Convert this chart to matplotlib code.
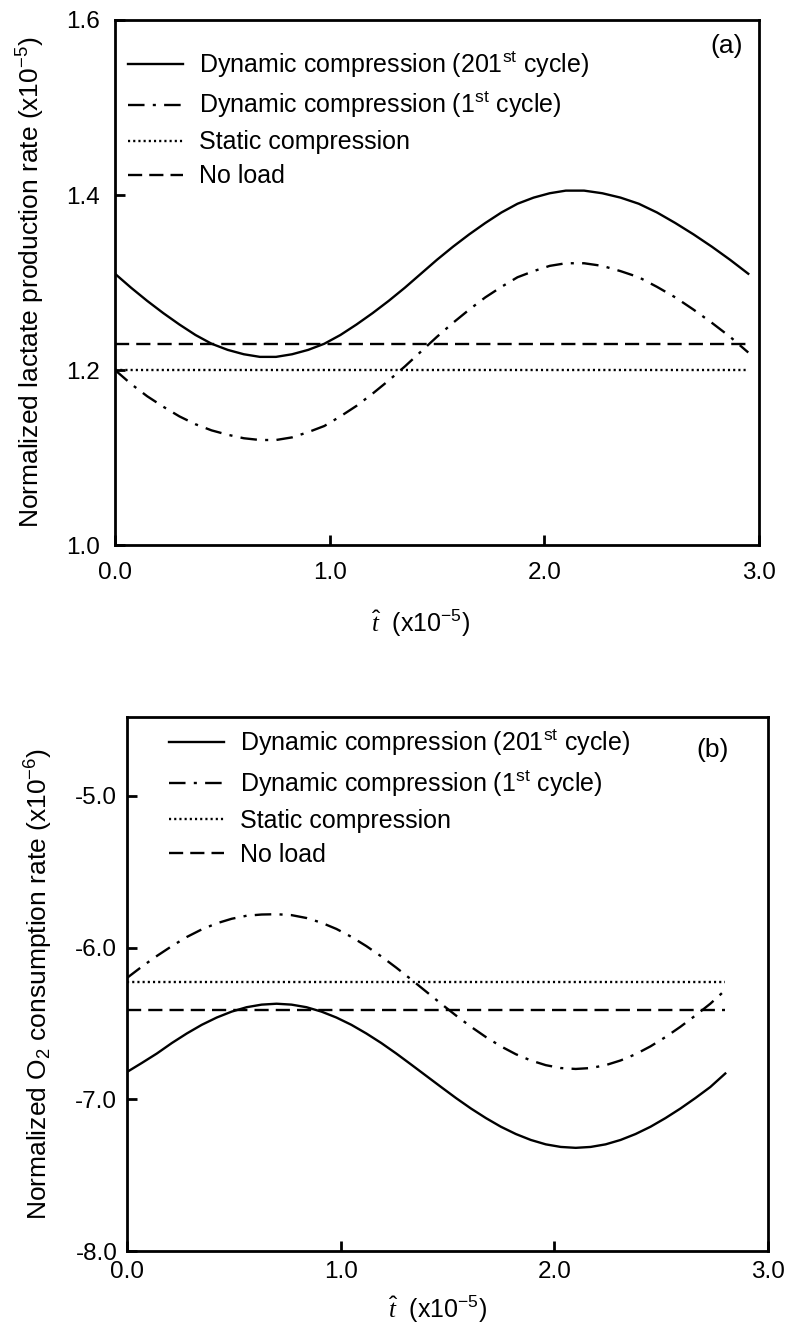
import matplotlib
matplotlib.use("Agg")
import matplotlib.pyplot as plt

plt.rcParams['font.family'] = ['Liberation Sans', 'DejaVu Sans']
plt.rcParams['mathtext.fontset'] = 'custom'
plt.rcParams['mathtext.rm'] = 'Liberation Sans'
plt.rcParams['mathtext.it'] = 'Liberation Serif:italic'
plt.rcParams['mathtext.default'] = 'regular'

# ---------------- data: panel (a) ----------------
t_a = [0.000, 0.075, 0.150, 0.225, 0.300, 0.375, 0.450, 0.525, 0.600, 0.675,
       0.750, 0.825, 0.900, 0.975, 1.050, 1.125, 1.200, 1.275, 1.350, 1.425,
       1.500, 1.575, 1.650, 1.725, 1.800, 1.875, 1.950, 2.025, 2.100, 2.185,
       2.270, 2.355, 2.440, 2.525, 2.610, 2.695, 2.780, 2.865, 2.950]
dyn201_a = [1.310, 1.294, 1.279, 1.265, 1.252, 1.240, 1.230, 1.223, 1.218, 1.215,
            1.215, 1.218, 1.223, 1.230, 1.240, 1.252, 1.265, 1.279, 1.294, 1.310,
            1.326, 1.341, 1.355, 1.368, 1.380, 1.390, 1.397, 1.402, 1.405, 1.405,
            1.402, 1.397, 1.390, 1.380, 1.368, 1.355, 1.341, 1.326, 1.310]
dyn1_a = [1.200, 1.184, 1.170, 1.158, 1.147, 1.138, 1.131, 1.126, 1.122, 1.120,
          1.120, 1.123, 1.129, 1.136, 1.147, 1.159, 1.173, 1.188, 1.204, 1.221,
          1.238, 1.254, 1.269, 1.283, 1.295, 1.306, 1.313, 1.319, 1.322, 1.322,
          1.319, 1.313, 1.306, 1.295, 1.283, 1.269, 1.254, 1.238, 1.220]
static_a = [1.200, 1.200]
noload_a = [1.230, 1.230]
t_a_flat = [0.00, 2.95]

# ---------------- data: panel (b) ----------------
t_b = [0.00, 0.07, 0.14, 0.21, 0.28, 0.35, 0.42, 0.49, 0.56, 0.63,
       0.70, 0.77, 0.84, 0.91, 0.98, 1.05, 1.12, 1.19, 1.26, 1.33,
       1.40, 1.47, 1.54, 1.61, 1.68, 1.75, 1.82, 1.89, 1.96, 2.03,
       2.10, 2.17, 2.24, 2.31, 2.38, 2.45, 2.52, 2.59, 2.66, 2.73, 2.80]
dyn201_b = [-6.820, -6.760, -6.698, -6.629, -6.566, -6.509, -6.461, -6.422, -6.393, -6.376,
            -6.370, -6.376, -6.393, -6.422, -6.461, -6.509, -6.566, -6.629, -6.698, -6.771,
            -6.845, -6.919, -6.992, -7.061, -7.124, -7.181, -7.229, -7.268, -7.297, -7.314,
            -7.320, -7.314, -7.297, -7.268, -7.229, -7.181, -7.124, -7.061, -6.992, -6.919, -6.830]
dyn1_b = [-6.200, -6.125, -6.055, -5.990, -5.930, -5.880, -5.840, -5.810, -5.790, -5.782,
          -5.780, -5.786, -5.805, -5.836, -5.877, -5.929, -5.990, -6.058, -6.132, -6.210,
          -6.290, -6.370, -6.448, -6.522, -6.590, -6.651, -6.703, -6.744, -6.775, -6.794,
          -6.800, -6.794, -6.775, -6.744, -6.703, -6.651, -6.590, -6.522, -6.448, -6.370, -6.280]
static_b = [-6.230, -6.230]
noload_b = [-6.410, -6.410]
t_b_flat = [0.00, 2.80]

labels = ['Dynamic compression (201$^{st}$ cycle)',
          'Dynamic compression (1$^{st}$ cycle)',
          'Static compression',
          'No load']

xticks = [0.0, 1.0, 2.0, 3.0]
xticklabels = ['0.0', '1.0', '2.0', '3.0']
yticks_a = [1.0, 1.2, 1.4, 1.6]
yticklabels_a = ['1.0', '1.2', '1.4', '1.6']
yticks_b = [-8.0, -7.0, -6.0, -5.0]
yticklabels_b = ['-8.0', '-7.0', '-6.0', '-5.0']

W, H = 800, 1329
fig = plt.figure(figsize=(W / 100, H / 100), dpi=100)

def box(l, t, r, b):
    return [l / W, 1 - b / H, (r - l) / W, (b - t) / H]

ax1 = fig.add_axes(box(115, 20, 759, 545))
ax2 = fig.add_axes(box(127, 717, 768, 1251))

lw = 1.7
sty_solid = dict(color='black', lw=lw, linestyle='-')
sty_dd = dict(color='black', lw=lw, linestyle=(0, (7, 3.5, 1.3, 3.5)))
sty_dot = dict(color='black', lw=lw, linestyle=(0, (0.9, 1.3)))
sty_dash = dict(color='black', lw=lw, linestyle=(0, (6, 3)))

def draw(ax, t, d201, d1, tf, st, nl):
    ax.plot(t, d201, label=labels[0], **sty_solid)
    ax.plot(t, d1, label=labels[1], **sty_dd)
    ax.plot(tf, st, label=labels[2], **sty_dot)
    ax.plot(tf, nl, label=labels[3], **sty_dash)

draw(ax1, t_a, dyn201_a, dyn1_a, t_a_flat, static_a, noload_a)
draw(ax2, t_b, dyn201_b, dyn1_b, t_b_flat, static_b, noload_b)

ax1.set_xlim(0, 3.0)
ax1.set_ylim(1.0, 1.6)
ax2.set_xlim(0, 3.0)
ax2.set_ylim(-8.0, -4.48)

for ax, yt, ytl in [(ax1, yticks_a, yticklabels_a), (ax2, yticks_b, yticklabels_b)]:
    ax.set_xticks(xticks)
    ax.set_xticklabels(xticklabels)
    ax.set_yticks(yt)
    ax.set_yticklabels(ytl)
    ax.tick_params(direction='in', length=7, width=2, labelsize=17.5)
    for s in ax.spines.values():
        s.set_linewidth(2)

ax1.tick_params(axis='x', pad=12)
ax1.tick_params(axis='y', pad=11)
ax2.tick_params(axis='x', pad=7)
ax2.tick_params(axis='y', pad=7)

ax1.set_ylabel('Normalized lactate production rate (x10$^{-5}$)', fontsize=19)
ax2.set_ylabel('Normalized O$_2$ consumption rate (x10$^{-6}$)', fontsize=19)
ax1.yaxis.set_label_coords(-0.105, 0.5)
ax2.yaxis.set_label_coords(-0.113, 0.5)

xl = r'$\hat{\mathit{t}}$  (x10$^{-5}$)'
ax1.set_xlabel(xl, fontsize=18)
ax2.set_xlabel(xl, fontsize=18)
ax1.xaxis.set_label_coords(0.475, -0.12)
ax2.xaxis.set_label_coords(0.485, -0.08)

ax1.text(0.975, 0.95, '(a)', transform=ax1.transAxes, fontsize=19, ha='right', va='center')
ax2.text(0.938, 0.938, '(b)', transform=ax2.transAxes, fontsize=19, ha='right', va='center')

leg_kw = dict(frameon=False, loc='upper left', fontsize=18, handlelength=2.2,
              handletextpad=0.65, labelspacing=0.4, borderpad=0, borderaxespad=0)
ax1.legend(bbox_to_anchor=(0.02, 0.945), **leg_kw)
ax2.legend(bbox_to_anchor=(0.065, 0.981), **leg_kw)

fig.savefig('out.png', dpi=100)
